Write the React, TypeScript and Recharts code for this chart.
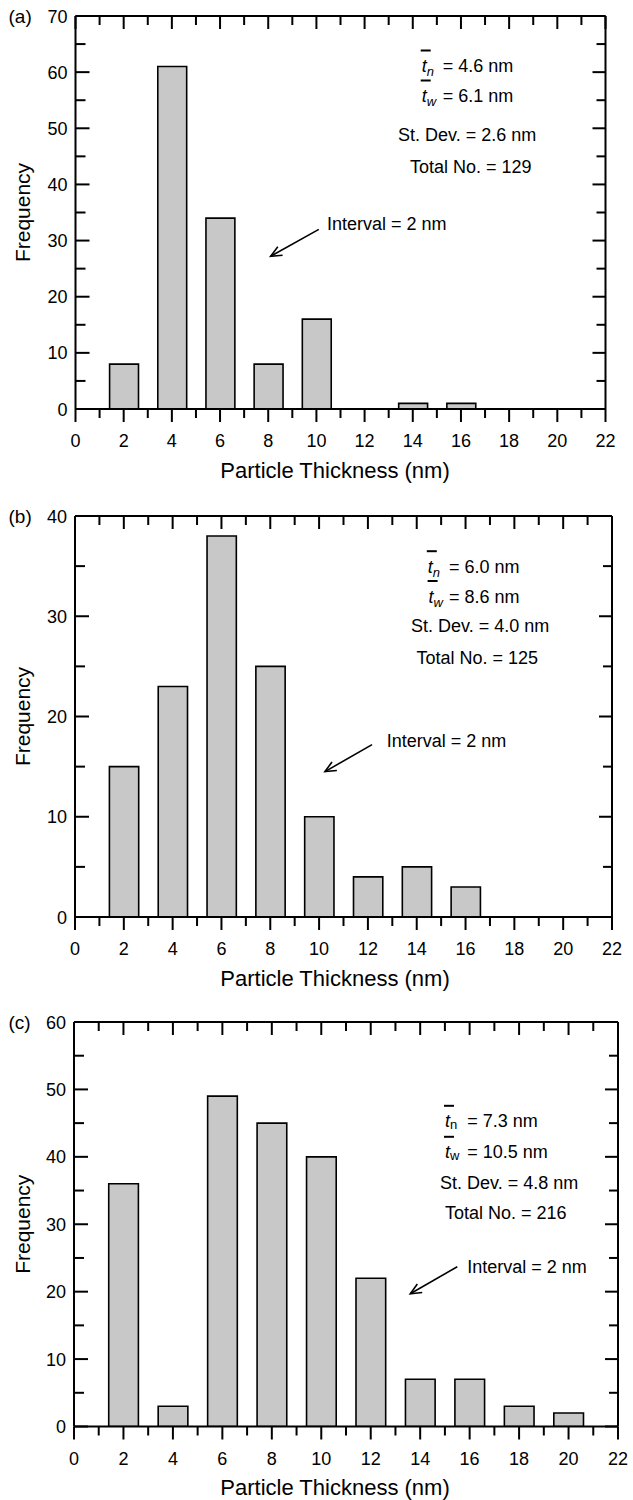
import React from 'react';
import { BarChart, Bar, XAxis, YAxis, ReferenceLine, Customized } from 'recharts';

// Bin centres (nm) of the 2 nm thickness histogram, shared by all samples
const binCentres = [2, 4, 6, 8, 10, 12, 14, 16, 18, 20];

// Particle counts per bin for samples (a), (b), (c)
const countsA = [8, 61, 34, 8, 16, 0, 1, 1, 0, 0];
const countsB = [15, 23, 38, 25, 10, 4, 5, 3, 0, 0];
const countsC = [36, 3, 49, 45, 40, 22, 7, 7, 3, 2];

// Axis ticks (labels on even thickness values and on multiples of 10)
const thicknessTicks = [0, 1, 2, 3, 4, 5, 6, 7, 8, 9, 10, 11, 12, 13, 14, 15, 16, 17, 18, 19, 20, 21, 22];
const freqTicksA = [0, 5, 10, 15, 20, 25, 30, 35, 40, 45, 50, 55, 60, 65, 70];
const freqTicksB = [0, 5, 10, 15, 20, 25, 30, 35, 40];
const freqTicksC = [0, 5, 10, 15, 20, 25, 30, 35, 40, 45, 50, 55, 60];

// Summary statistics printed in each panel
const panelLetters = ['(a)', '(b)', '(c)'];
const numberMeans = ['4.6', '6.0', '7.3'];
const weightMeans = ['6.1', '8.6', '10.5'];
const stdDevs = ['2.6', '4.0', '4.8'];
const totals = ['129', '125', '216'];
const intervalLabel = 'Interval = 2 nm';

// "Interval" arrows in data units: [x from, y from, x to, y to]
const arrowA = [10.1, 32, 8.1, 27.2];
const arrowB = [12.17, 17.2, 10.24, 14.5];
const arrowC = [15.5, 23.7, 13.6, 19.7];

const FONT = '"Liberation Sans", Arial, Helvetica, sans-serif';
const INK = '#000';
const MAJOR_LEN = 13;
const MINOR_LEN = 9;
const TICK_FONT = 18;
const NOTE_FONT = 18;
const TITLE_FONT = 22;

const BottomTick = (props: any) => {
  const { x, y, payload } = props;
  const v = payload.value;
  const major = v % 2 === 0;
  return (
    <g>
      <line x1={x} x2={x} y1={y} y2={y + (major ? MAJOR_LEN : MINOR_LEN)} stroke={INK} strokeWidth={2} />
      {major ? (
        <text x={x} y={y + 38} textAnchor="middle" fontSize={TICK_FONT} fontFamily={FONT} fill={INK}>
          {v}
        </text>
      ) : null}
    </g>
  );
};

const TopTick = (props: any) => {
  const { x, y, payload } = props;
  const major = payload.value % 2 === 0;
  return <line x1={x} x2={x} y1={y} y2={y + (major ? MAJOR_LEN : MINOR_LEN)} stroke={INK} strokeWidth={2} />;
};

const LeftTick = (props: any) => {
  const { x, y, payload } = props;
  const v = payload.value;
  const major = v % 10 === 0;
  return (
    <g>
      <line x1={x} x2={x + (major ? MAJOR_LEN + 1 : MINOR_LEN + 1)} y1={y} y2={y} stroke={INK} strokeWidth={2} />
      {major ? (
        <text x={x - 8} y={y + 6.5} textAnchor="end" fontSize={TICK_FONT} fontFamily={FONT} fill={INK}>
          {v}
        </text>
      ) : null}
    </g>
  );
};

const RightTick = (props: any) => {
  const { x, y, payload } = props;
  const major = payload.value % 10 === 0;
  return <line x1={x} x2={x - (major ? MAJOR_LEN : MINOR_LEN)} y1={y} y2={y} stroke={INK} strokeWidth={2} />;
};

const ArrowShape = (props: any) => {
  const { x1, y1, x2, y2 } = props;
  const ang = Math.atan2(y2 - y1, x2 - x1);
  const head = 12;
  const spread = 0.42;
  const hx1 = x2 - head * Math.cos(ang - spread);
  const hy1 = y2 - head * Math.sin(ang - spread);
  const hx2 = x2 - head * Math.cos(ang + spread);
  const hy2 = y2 - head * Math.sin(ang + spread);
  return (
    <g>
      <line x1={x1} y1={y1} x2={x2} y2={y2} stroke={INK} strokeWidth={1.6} />
      <polyline points={`${hx1},${hy1} ${x2},${y2} ${hx2},${hy2}`} fill="none" stroke={INK} strokeWidth={1.6} />
    </g>
  );
};

type Pt = { x: number; y: number; eq?: number };
type PanelCfg = {
  top: number;
  height: number;
  left: number;
  right: number;
  plotTop: number;
  plotBottom: number;
  tn: Pt;
  tw: Pt;
  sd: Pt;
  total: Pt;
  interval: Pt;
  italicSub: boolean;
};

const Notes = ({ cfg, idx }: { cfg: PanelCfg; idx: number }) => {
  const off = cfg.top;
  const txt = { fontFamily: FONT, fontSize: NOTE_FONT, fill: INK };
  const mean = (p: Pt, sub: string, val: string) => (
    <g>
      <line x1={p.x - 1} x2={p.x + 9} y1={p.y - off - 21.5} y2={p.y - off - 21.5} stroke={INK} strokeWidth={2} />
      <text x={p.x} y={p.y - off} {...txt}>
        <tspan fontStyle="italic">t</tspan>
        <tspan fontStyle={cfg.italicSub ? 'italic' : 'normal'} fontSize={13} dy={cfg.italicSub ? 4 : 2}>
          {sub}
        </tspan>
      </text>
      <text x={p.eq} y={p.y - off} {...txt}>
        = {val} nm
      </text>
    </g>
  );
  const midY = (cfg.plotTop + cfg.plotBottom) / 2;
  return (
    <g>
      <text x={8.5} y={cfg.plotTop + 7} fontFamily={FONT} fontSize={19} fill={INK}>
        {panelLetters[idx]}
      </text>
      <text
        transform={`translate(22, ${midY}) rotate(-90)`}
        textAnchor="middle"
        dominantBaseline="central"
        fontFamily={FONT}
        fontSize={21}
        fill={INK}
      >
        Frequency
      </text>
      <text x={335} y={cfg.plotBottom + 68.5} textAnchor="middle" fontFamily={FONT} fontSize={TITLE_FONT} fill={INK}>
        Particle Thickness (nm)
      </text>
      {mean(cfg.tn, 'n', numberMeans[idx])}
      {mean(cfg.tw, 'w', weightMeans[idx])}
      <text x={cfg.sd.x} y={cfg.sd.y - off} {...txt}>
        St. Dev. = {stdDevs[idx]} nm
      </text>
      <text x={cfg.total.x} y={cfg.total.y - off} {...txt}>
        Total No. = {totals[idx]}
      </text>
      <text x={cfg.interval.x} y={cfg.interval.y - off} {...txt}>
        {intervalLabel}
      </text>
    </g>
  );
};

const Panel = ({
  cfg,
  idx,
  counts,
  yTicks,
  arrow,
}: {
  cfg: PanelCfg;
  idx: number;
  counts: number[];
  yTicks: number[];
  arrow: number[];
}) => {
  const rows = binCentres.map((t, i) => ({ t, count: counts[i] }));
  const yMax = yTicks[yTicks.length - 1];
  const plotW = cfg.right - cfg.left;
  const barPx = (plotW / 22) * 1.2;
  return (
    <div style={{ position: 'absolute', left: 0, top: cfg.top, width: 633, height: cfg.height }}>
      <BarChart
        width={633}
        height={cfg.height}
        data={rows}
        margin={{ top: cfg.plotTop - 1, bottom: 0, left: 0, right: 633 - cfg.right - 1 }}
      >
        <XAxis
          xAxisId="bottom"
          dataKey="t"
          type="number"
          domain={[0, 22]}
          allowDataOverflow
          ticks={thicknessTicks}
          interval={0}
          tickSize={0}
          tickMargin={0}
          tickLine={false}
          tick={BottomTick}
          height={cfg.height - cfg.plotBottom}
          axisLine={{ stroke: INK, strokeWidth: 2 }}
        />
        <XAxis
          xAxisId="top"
          orientation="top"
          dataKey="t"
          type="number"
          domain={[0, 22]}
          allowDataOverflow
          ticks={thicknessTicks}
          interval={0}
          tickSize={0}
          tickMargin={0}
          tickLine={false}
          tick={TopTick}
          height={1}
          axisLine={{ stroke: INK, strokeWidth: 2 }}
        />
        <YAxis
          yAxisId="left"
          type="number"
          domain={[0, yMax]}
          allowDataOverflow
          ticks={yTicks}
          interval={0}
          tickSize={0}
          tickMargin={0}
          tickLine={false}
          tick={LeftTick}
          width={cfg.left}
          axisLine={{ stroke: INK, strokeWidth: 2 }}
        />
        <YAxis
          yAxisId="right"
          orientation="right"
          type="number"
          domain={[0, yMax]}
          allowDataOverflow
          ticks={yTicks}
          interval={0}
          tickSize={0}
          tickMargin={0}
          tickLine={false}
          tick={RightTick}
          width={1}
          axisLine={{ stroke: INK, strokeWidth: 2 }}
        />
        <Bar
          xAxisId="bottom"
          yAxisId="left"
          dataKey="count"
          barSize={barPx}
          fill="#c8c8c8"
          stroke={INK}
          strokeWidth={1.6}
          isAnimationActive={false}
        />
        <ReferenceLine
          xAxisId="bottom"
          yAxisId="left"
          segment={[
            { x: arrow[0], y: arrow[1] },
            { x: arrow[2], y: arrow[3] },
          ]}
          ifOverflow="visible"
          shape={ArrowShape}
        />
        <Customized component={<Notes cfg={cfg} idx={idx} />} />
      </BarChart>
    </div>
  );
};

const cfgA: PanelCfg = {
  top: 0,
  height: 495,
  left: 75.5,
  right: 605.5,
  plotTop: 16,
  plotBottom: 409,
  tn: { x: 421.7, y: 72, eq: 442.7 },
  tw: { x: 421.7, y: 102, eq: 442.7 },
  sd: { x: 398, y: 140.5 },
  total: { x: 410, y: 173 },
  interval: { x: 327, y: 230 },
  italicSub: true,
};

const cfgB: PanelCfg = {
  top: 490,
  height: 515,
  left: 75,
  right: 612,
  plotTop: 26,
  plotBottom: 427,
  tn: { x: 427.8, y: 572.7, eq: 449 },
  tw: { x: 428.6, y: 602.5, eq: 449 },
  sd: { x: 411, y: 632 },
  total: { x: 416.5, y: 664 },
  interval: { x: 386.7, y: 746.5 },
  italicSub: true,
};

const cfgC: PanelCfg = {
  top: 990,
  height: 510,
  left: 74,
  right: 618,
  plotTop: 32,
  plotBottom: 436.5,
  tn: { x: 445, y: 1127.3, eq: 467.3 },
  tw: { x: 445, y: 1158.3, eq: 467.3 },
  sd: { x: 440, y: 1188.5 },
  total: { x: 445, y: 1219.3 },
  interval: { x: 467.3, y: 1273.3 },
  italicSub: false,
};

export default function App() {
  return (
    <div style={{ position: 'absolute', left: 0, top: 0, width: 633, height: 1500, background: '#fff', overflow: 'hidden' }}>
      <Panel cfg={cfgA} idx={0} counts={countsA} yTicks={freqTicksA} arrow={arrowA} />
      <Panel cfg={cfgB} idx={1} counts={countsB} yTicks={freqTicksB} arrow={arrowB} />
      <Panel cfg={cfgC} idx={2} counts={countsC} yTicks={freqTicksC} arrow={arrowC} />
    </div>
  );
}
